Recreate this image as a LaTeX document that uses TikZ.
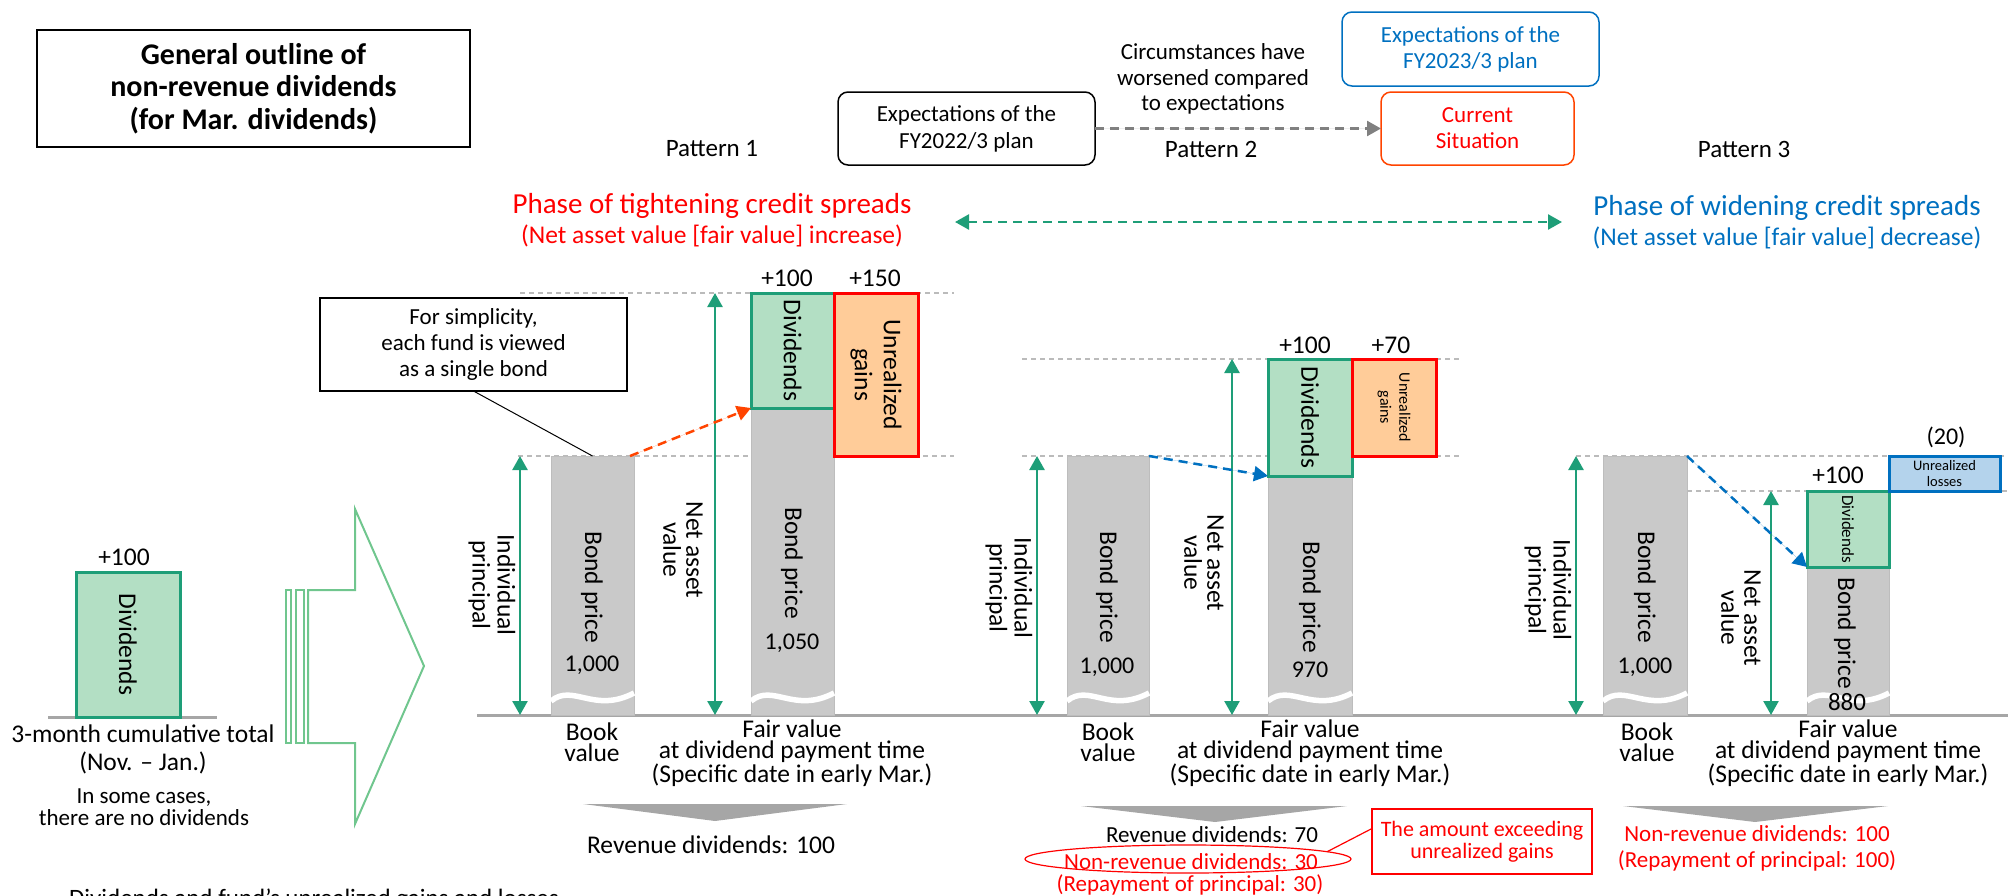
\documentclass[tikz,border=0pt]{standalone}
\usepackage{fontspec}
\setmainfont{Carlito}
\usetikzlibrary{arrows.meta,shapes.geometric,calc}
\definecolor{tealg}{HTML}{1E9E78}
\definecolor{divfill}{HTML}{B3DFC4}
\definecolor{peach}{HTML}{FFCC99}
\definecolor{barg}{HTML}{C9C9C9}
\definecolor{baredge}{HTML}{BDBDBD}
\definecolor{baseg}{HTML}{A6A6A6}
\definecolor{guideg}{HTML}{BBBBBB}
\definecolor{bluec}{HTML}{0070C0}
\definecolor{lossfill}{HTML}{B4D3EC}
\definecolor{orred}{HTML}{FF4400}
\definecolor{arrowg}{HTML}{70C68E}
\definecolor{redc}{HTML}{FF0000}
\newcommand\bondwave[2]{\draw[white,line width=5.5pt] (#1,701) .. controls ({#1+22},683) and ({#2-40},714) .. (#2,693);}
\begin{document}
\begin{tikzpicture}[x=1pt,y=-1pt,
  every node/.style={inner sep=0pt,outer sep=0pt},
  tx/.style={font=\fontsize{25.5}{26}\selectfont,align=center},
  tsm/.style={font=\fontsize{23}{26}\selectfont,align=center},
  tblock/.style={font=\fontsize{25.5}{21.5}\selectfont,align=center},
  bar/.style={fill=barg,draw=baredge,line width=1pt,anchor=north west},
  divbox/.style={fill=divfill,draw=tealg,line width=3pt,anchor=north west},
  gainbox/.style={fill=peach,draw=redc,line width=3pt,anchor=north west},
  guide/.style={draw=guideg,line width=1.5pt,dash pattern=on 5pt off 4pt},
  tarrow/.style={draw=tealg,line width=2.5pt,{Triangle[width=15pt,length=14pt]}-{Triangle[width=15pt,length=14pt]}},
  dasharrow/.style={line width=2.5pt,dash pattern=on 9pt off 6pt,-{Triangle[width=15pt,length=14pt]}},
  chev/.style={fill=baseg,draw=none},
  rot/.style={rotate=-90}]
\useasboundingbox (0,0) rectangle (2008,895);
\clip (0,0) rectangle (2008,895);

% ---------- header ----------
\node[draw,line width=1.5pt,minimum width=433,minimum height=117,anchor=north west,
  font=\bfseries\fontsize{30}{32.5}\selectfont,align=center] (title) at (37,30)
  {General outline of\\non-revenue dividends\\(for Mar. dividends)};

\node[tsm,draw,line width=1.5pt,rounded corners=10pt,minimum width=257,minimum height=73,anchor=north west,font=\fontsize{23}{27}\selectfont] (fy22) at (838,92) {Expectations of the\\FY2022/3 plan};
\node[tsm,draw=bluec,text=bluec,line width=1.5pt,rounded corners=10pt,minimum width=257,minimum height=74,anchor=north west] (fy23) at (1342,12) {Expectations of the\\FY2023/3 plan};
\node[tsm,draw=orred,text=redc,line width=1.5pt,rounded corners=10pt,minimum width=193,minimum height=73,anchor=north west] (cur) at (1381,92) {Current\\Situation};
\node[tsm,font=\fontsize{23}{25.5}\selectfont] (circ) at (1213,79) {Circumstances have\\worsened compared\\to expectations};
\draw[dasharrow,draw=gray,fill=gray] (fy22.east) -- (cur.west);

\node[tx,font=\fontsize{25}{26}\selectfont] (pat1) at (712,149) {Pattern 1};
\node[tx,font=\fontsize{25}{26}\selectfont] (pat2) at (1211,149) {Pattern 2};
\node[tx,font=\fontsize{25}{26}\selectfont] (pat3) at (1744,149) {Pattern 3};

\node[font=\fontsize{29}{30}\selectfont,text=redc] (ph1) at (712,206) {Phase of tightening credit spreads};
\node[tx,text=redc] (ph1b) at (712,236) {(Net asset value [fair value] increase)};
\node[font=\fontsize{29}{30}\selectfont,text=bluec] (ph2) at (1787,208) {Phase of widening credit spreads};
\node[tx,text=bluec] (ph2b) at (1787,238) {(Net asset value [fair value] decrease)};
\coordinate (ga1) at (955,222);
\coordinate (ga2) at (1562,222);
\draw[tealg,line width=2.5pt,dash pattern=on 9pt off 6pt,{Triangle[width=15pt,length=14pt]}-{Triangle[width=15pt,length=14pt]}] (ga1) -- (ga2);

% ---------- left part ----------
\draw[baseg,line width=3pt] (48,717) -- (217,717);
\node[divbox,minimum width=104,minimum height=145] (d0) at (76,572) {};
\node[tx,rot] at (d0.center) {Dividends};
\node[tx] (p0) at (124,557) {+100};
\node[tx] (cum) at (143,734) {3-month cumulative total};
\node[tx] (nov) at (143,763) {(Nov. -- Jan.)};
\node[font=\fontsize{23}{21.5}\selectfont,align=center] (some) at (144,807) {In some cases,\\there are no dividends};

\draw[arrowg,line width=2pt] (308,590) -- (355,590) -- (355,509) -- (424,666) -- (355,824) -- (355,743) -- (308,743) -- cycle;
\draw[arrowg,line width=2pt] (286,590) rectangle (291,743);
\draw[arrowg,line width=2pt] (296,590) rectangle (304,743);

% ---------- guides & baseline ----------
\draw[guide] (520,293) -- (954,293);
\draw[guide] (518,456) -- (954,456);
\draw[guide] (1022,359) -- (1462,359);
\draw[guide] (1022,456) -- (1462,456);
\draw[guide] (1576,456) -- (2008,456);
\draw[guide] (1687,491) -- (2008,491);
\draw[baseg,line width=3pt] (477,715) -- (2008,715);

% ---------- pattern 1 ----------
\node[bar,minimum width=83,minimum height=259] (b1) at (551,456) {};
\node[bar,minimum width=83,minimum height=307] (f1) at (751,408) {};
\node[divbox,minimum width=83,minimum height=115] (d1) at (751,293) {};
\node[gainbox,minimum width=84,minimum height=163] (u1) at (834,293) {};
\bondwave{551}{634}
\bondwave{751}{834}
\node[tx,rot] at (d1.center) {Dividends};
\node[rot,align=center,font=\fontsize{25.5}{29}\selectfont] at (u1.center) {Unrealized\\gains};
\node[tx,rot] at (592,587) {Bond price};
\node[tx,font=\fontsize{24}{26}\selectfont] at (592,665) {1,000};
\node[tx,rot] at (792,563) {Bond price};
\node[tx,font=\fontsize{24}{26}\selectfont] at (792,643) {1,050};
\node[tx] at (787,278) {+100};
\node[tx] at (875,278) {+150};

\coordinate (ip1t) at (520,456); \coordinate (ip1b) at (520,715);
\coordinate (na1t) at (715,293); \coordinate (na1b) at (715,715);
\draw[tarrow] (ip1t) -- (ip1b);
\draw[tarrow] (na1t) -- (na1b);
\node[rot,align=center,font=\fontsize{25.5}{25}\selectfont] at (492,585) {Individual\\principal};
\node[rot,align=center,font=\fontsize{25.5}{23}\selectfont] at (683,550) {Net asset\\value};

\node[draw,line width=1.2pt,fill=white,minimum width=307,minimum height=93,anchor=north west,align=center,font=\fontsize{23}{26}\selectfont] (call) at (320,298) {For simplicity,\\each fund is viewed\\as a single bond};
\draw[line width=1pt] (call.south) -- (b1.north);
\coordinate (r1s) at (630,456);
\draw[dasharrow,draw=orred,fill=orred] (r1s) -- (d1.south west);

\node[tblock] at (592,742) {Book\\value};
\node[tblock] at (792,753) {Fair value\\at dividend payment time\\(Specific date in early Mar.)};
\fill[chev] (583,804) -- (847,804) -- (715,821) -- cycle;
\node[tx] at (711,845) {Revenue dividends: 100};

% ---------- pattern 2 ----------
\node[bar,minimum width=82,minimum height=259] (b2) at (1067,456) {};
\node[bar,minimum width=84,minimum height=239] (f2) at (1268,476) {};
\node[divbox,minimum width=84,minimum height=117] (d2) at (1268,359) {};
\node[gainbox,minimum width=84,minimum height=97] (u2) at (1352,359) {};
\bondwave{1067}{1149}
\bondwave{1268}{1352}
\node[tx,rot] at (d2.center) {Dividends};
\node[rot,align=center,font=\fontsize{16}{19}\selectfont] at (u2.center) {Unrealized\\gains};
\node[tx,rot] at (1107,587) {Bond price};
\node[tx,font=\fontsize{24}{26}\selectfont] at (1107,667) {1,000};
\node[tx,rot] at (1310,597) {Bond price};
\node[tx,font=\fontsize{24}{26}\selectfont] at (1310,670) {970};
\node[tx] at (1305,345) {+100};
\node[tx] at (1391,345) {+70};

\coordinate (ip2t) at (1037,456); \coordinate (ip2b) at (1037,715);
\coordinate (na2t) at (1232,359); \coordinate (na2b) at (1232,715);
\draw[tarrow] (ip2t) -- (ip2b);
\draw[tarrow] (na2t) -- (na2b);
\node[rot,align=center,font=\fontsize{25.5}{25}\selectfont] at (1009,588) {Individual\\principal};
\node[rot,align=center,font=\fontsize{25.5}{23}\selectfont] at (1204,563) {Net asset\\value};
\draw[dasharrow,draw=bluec,fill=bluec] (b2.north east) -- (d2.south west);

\node[tblock] at (1108,742) {Book\\value};
\node[tblock] at (1310,753) {Fair value\\at dividend payment time\\(Specific date in early Mar.)};
\fill[chev] (1081,806) -- (1347,806) -- (1215,822) -- cycle;
\node[tsm] at (1212,835) {Revenue dividends: 70};
\node[tsm,text=redc] at (1191,862) {Non-revenue dividends: 30};
\node[tsm,text=redc] at (1190,885) {(Repayment of principal: 30)};
\node[ellipse,draw=redc,line width=1.2pt,minimum width=326,minimum height=28] (ell) at (1188,859) {};
\node[draw=redc,line width=1.2pt,minimum width=220,minimum height=65,anchor=north west,text=redc,align=center,font=\fontsize{22}{22}\selectfont] (rbox) at (1372,809) {The amount exceeding\\unrealized gains};
\draw[redc,line width=1.2pt] (ell.3) -- ($(rbox.north west)!0.3!(rbox.south west)$);

% ---------- pattern 3 ----------
\node[bar,minimum width=84,minimum height=259] (b3) at (1603,456) {};
\node[bar,minimum width=82,minimum height=148] (f3) at (1807,567) {};
\node[divbox,minimum width=82,minimum height=76] (d3) at (1807,491) {};
\node[fill=lossfill,draw=bluec,line width=3pt,minimum width=111,minimum height=35,anchor=north west,align=center,font=\fontsize{14.5}{16}\selectfont] (l3) at (1889,456) {Unrealized\\losses};
\bondwave{1603}{1687}
\bondwave{1807}{1889}
\node[rot,font=\fontsize{17}{18}\selectfont] at (d3.center) {Dividends};
\node[tx,rot] at (1645,587) {Bond price};
\node[tx,font=\fontsize{24}{26}\selectfont] at (1645,667) {1,000};
\node[tx,rot] at (1845,633) {Bond price};
\node[tx,font=\fontsize{25}{26}\selectfont] at (1847,702) {880};
\node[tx] at (1838,475) {+100};
\node[tx,font=\fontsize{24}{26}\selectfont] at (1946,437) {(20)};

\coordinate (ip3t) at (1576,456); \coordinate (ip3b) at (1576,715);
\coordinate (na3t) at (1771,491); \coordinate (na3b) at (1771,715);
\draw[tarrow] (ip3t) -- (ip3b);
\draw[tarrow] (na3t) -- (na3b);
\node[rot,align=center,font=\fontsize{25.5}{25}\selectfont] at (1548,590) {Individual\\principal};
\node[rot,align=center,font=\fontsize{25.5}{23}\selectfont] at (1741,618) {Net asset\\value};
\draw[dasharrow,draw=bluec,fill=bluec] (b3.north east) -- (d3.south west);

\node[tblock] at (1647,742) {Book\\value};
\node[tblock] at (1848,753) {Fair value\\at dividend payment time\\(Specific date in early Mar.)};
\fill[chev] (1623,806) -- (1888,806) -- (1755,822) -- cycle;
\node[tsm,text=redc] at (1757,848) {Non-revenue dividends: 100\\(Repayment of principal: 100)};

% ---------- bottom (cut) ----------
\node[anchor=base west,font=\fontsize{25}{28}\selectfont] at (69,906) {Dividends and fund's unrealized gains and losses};
\end{tikzpicture}
\end{document}
